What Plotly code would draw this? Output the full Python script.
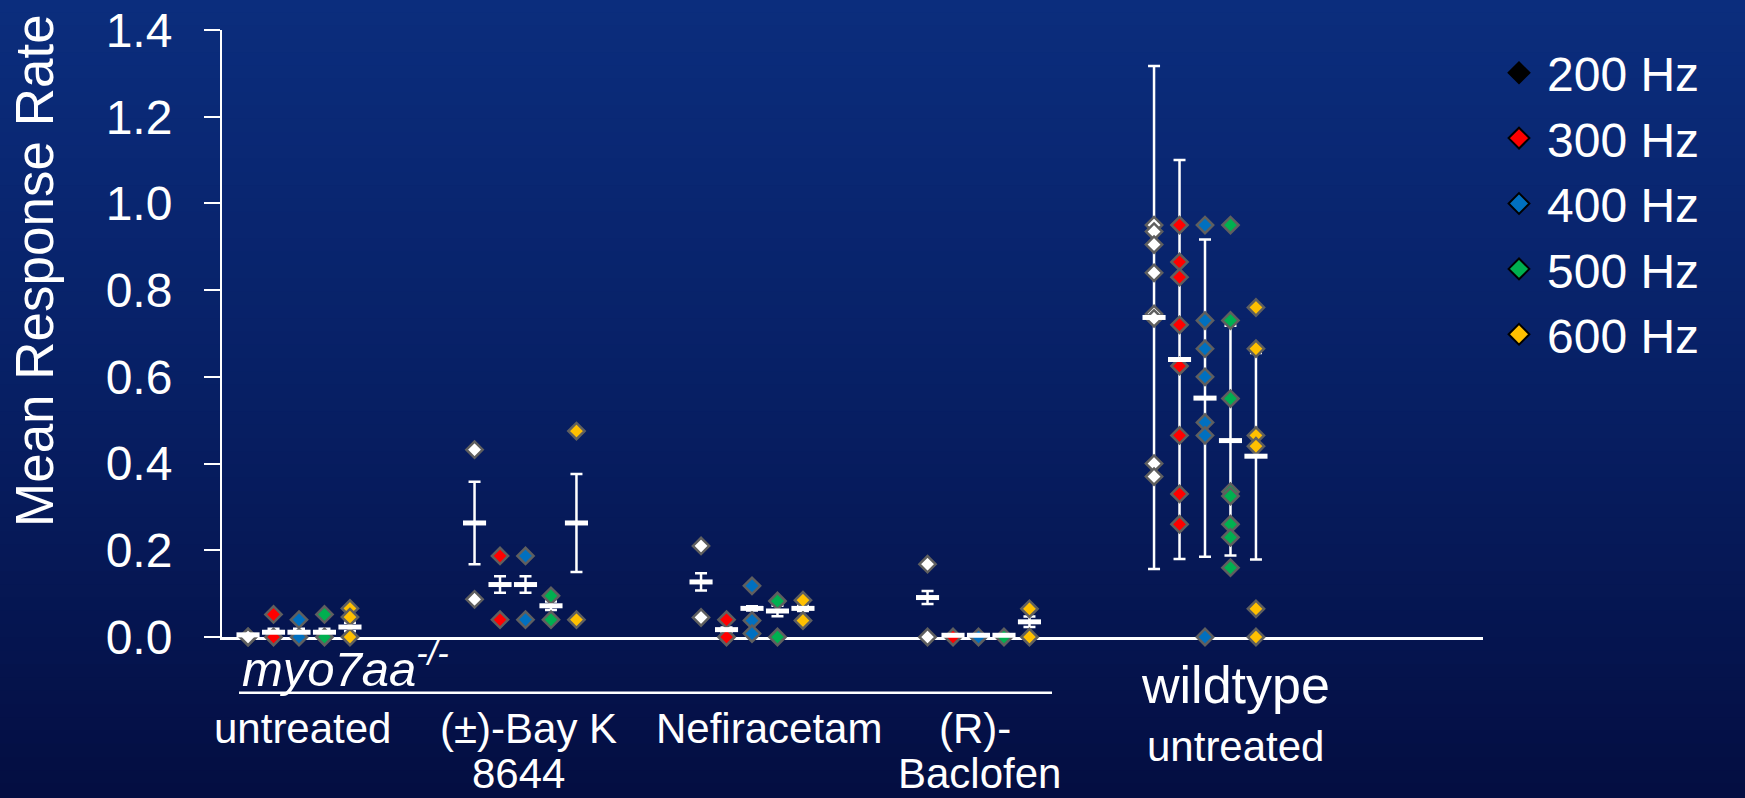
import plotly.graph_objects as go

# ---------------- data ----------------
groups = ["untreated", "(±)-Bay K 8644", "Nefiracetam", "(R)-Baclofen", "wildtype untreated"]
freqs = ["200 Hz", "300 Hz", "400 Hz", "500 Hz", "600 Hz"]

# individual fish values (visible points), per group
points_200 = [[0.0, 0.0], [0.432, 0.087], [0.210, 0.045], [0.168, 0.0],
              [0.95, 0.935, 0.905, 0.84, 0.745, 0.735, 0.40, 0.37]]
points_300 = [[0.052, 0.0], [0.187, 0.040], [0.040, 0.0], [0.0],
              [0.95, 0.865, 0.83, 0.72, 0.625, 0.465, 0.33, 0.26]]
points_400 = [[0.040, 0.0], [0.187, 0.040], [0.118, 0.038, 0.008], [0.0],
              [0.95, 0.73, 0.665, 0.60, 0.495, 0.465, 0.0]]
points_500 = [[0.052, 0.0], [0.095, 0.040], [0.083, 0.0], [0.0],
              [0.95, 0.73, 0.55, 0.335, 0.325, 0.26, 0.23, 0.16]]
points_600 = [[0.066, 0.046, 0.0], [0.475, 0.040], [0.085, 0.038], [0.065, 0.0],
              [0.76, 0.665, 0.465, 0.44, 0.065, 0.0]]

# group means and error bar half-lengths
mean_200 = [0.005, 0.263, 0.127, 0.091, 0.737]
err_200 = [0.0, 0.095, 0.020, 0.015, 0.58]
mean_300 = [0.011, 0.121, 0.017, 0.004, 0.64]
err_300 = [0.008, 0.019, 0.005, 0.0, 0.46]
mean_400 = [0.011, 0.121, 0.066, 0.004, 0.551]
err_400 = [0.008, 0.019, 0.005, 0.0, 0.366]
mean_500 = [0.011, 0.072, 0.060, 0.004, 0.453]
err_500 = [0.008, 0.010, 0.012, 0.0, 0.265]
mean_600 = [0.023, 0.263, 0.066, 0.035, 0.417]
err_600 = [0.010, 0.113, 0.006, 0.012, 0.238]

y_ticks = [0.0, 0.2, 0.4, 0.6, 0.8, 1.0, 1.2, 1.4]

# category label text, line by line
label_line1 = ["untreated", "(±)-Bay K", "Nefiracetam", "(R)-"]
label_line2 = ["", "8644", "", "Baclofen"]
wt_line1, wt_line2 = "wildtype", "untreated"

# ---------------- style ----------------
FONT = "Arial, Liberation Sans, sans-serif"
fill_colors = ["#FFFFFF", "#FF0000", "#0070C0", "#00B050", "#FFC000"]
legend_colors = ["#000000", "#FF0000", "#0070C0", "#00B050", "#FFC000"]
points_all = [points_200, points_300, points_400, points_500, points_600]
means_all = [mean_200, mean_300, mean_400, mean_500, mean_600]
errs_all = [err_200, err_300, err_400, err_500, err_600]
group_pos = list(range(len(groups)))
step = 0.1125

W, H = 1745, 798
ML, MR, MT, MB = 222, 262, 30, 161
PW, PH = W - ML - MR, H - MT - MB


def px_x(px):
    return (px - ML) / PW


def px_y(py):
    return (H - MB - py) / PH


fig = go.Figure()

# error bars (below the diamonds)
for fi, f in enumerate(freqs):
    off = (fi - 2) * step
    fig.add_trace(go.Scatter(
        x=[g + off for g in group_pos], y=means_all[fi], mode="markers",
        marker=dict(size=1, color="rgba(0,0,0,0)"),
        error_y=dict(type="data", array=errs_all[fi], color="white", thickness=2.5, width=6),
        showlegend=False, hoverinfo="skip", cliponaxis=False))

# individual points
for fi, f in enumerate(freqs):
    off = (fi - 2) * step
    xs, ys = [], []
    for g, pts in zip(group_pos, points_all[fi]):
        for v in pts:
            xs.append(g + off)
            ys.append(v)
    fig.add_trace(go.Scatter(
        x=xs, y=ys, mode="markers", name=f, showlegend=False, cliponaxis=False,
        marker=dict(symbol="diamond", size=12.5, color=fill_colors[fi],
                    line=dict(color="#5f5f5f", width=2.5))))

# mean bars
for fi, f in enumerate(freqs):
    off = (fi - 2) * step
    fig.add_trace(go.Scatter(
        x=[g + off for g in group_pos], y=means_all[fi], mode="markers",
        showlegend=False, cliponaxis=False,
        marker=dict(symbol="line-ew", size=16.5, color="white",
                    line=dict(color="white", width=5))))

# legend entries
for fi, f in enumerate(freqs):
    fig.add_trace(go.Scatter(
        x=[None], y=[None], mode="markers", name=f,
        marker=dict(symbol="diamond", size=16, color=legend_colors[fi],
                    line=dict(color="black", width=2))))

# background gradient
top_c = (11, 45, 125)
mid_c = (7, 31, 100)
bot_c = (4, 14, 66)
N = 60
shapes = []
for i in range(N):
    t = i / (N - 1)
    if t < 0.5:
        u = t / 0.5
        c = [round(top_c[k] + (mid_c[k] - top_c[k]) * u) for k in range(3)]
    else:
        u = (t - 0.5) / 0.5
        c = [round(mid_c[k] + (bot_c[k] - mid_c[k]) * u) for k in range(3)]
    y0 = i * H / N - 1
    y1 = (i + 1) * H / N + 1
    shapes.append(dict(type="rect", xref="paper", yref="paper", layer="below",
                       x0=px_x(-2), x1=px_x(W + 2), y0=px_y(y1), y1=px_y(y0),
                       fillcolor=f"rgb({c[0]},{c[1]},{c[2]})", line=dict(width=0)))

# underline for myo7aa group
shapes.append(dict(type="line", xref="paper", yref="paper",
                   x0=px_x(239), x1=px_x(1052), y0=px_y(692.7), y1=px_y(692.7),
                   line=dict(color="white", width=2.5)))

annotations = []
# y axis title
annotations.append(dict(text="Mean Response Rate", textangle=-90, xref="paper", yref="paper",
                        x=px_x(34), y=px_y(271), xanchor="center", yanchor="middle",
                        showarrow=False, font=dict(family=FONT, size=53, color="white")))
# genotype label
annotations.append(dict(text="<i>myo7aa<sup>-/-</sup></i>", xref="paper", yref="paper",
                        x=px_x(240), y=px_y(697.5), xanchor="left", yanchor="bottom",
                        showarrow=False, font=dict(family=FONT, size=49, color="white")))
# treatment labels
shift1 = [3, 3, 17, -4]
shift2 = [0, -7, 0, 1]
for g in range(len(label_line1)):
    annotations.append(dict(text=label_line1[g], xref="x", yref="paper", x=group_pos[g],
                            xshift=shift1[g], y=px_y(703), xanchor="center", yanchor="top",
                            showarrow=False, font=dict(family=FONT, size=42, color="white")))
    if label_line2[g]:
        annotations.append(dict(text=label_line2[g], xref="x", yref="paper", x=group_pos[g],
                                xshift=shift2[g], y=px_y(797.5), xanchor="center",
                                yanchor="bottom", borderpad=0, showarrow=False,
                                font=dict(family=FONT, size=42, color="white")))
annotations.append(dict(text=wt_line1, xref="x", yref="paper", x=group_pos[4], xshift=30,
                        y=px_y(716), xanchor="center", yanchor="bottom", showarrow=False,
                        font=dict(family=FONT, size=52, color="white")))
annotations.append(dict(text=wt_line2, xref="x", yref="paper", x=group_pos[4], xshift=30,
                        y=px_y(721), xanchor="center", yanchor="top", showarrow=False,
                        font=dict(family=FONT, size=42, color="white")))

fig.update_layout(
    width=W, height=H,
    margin=dict(l=ML, r=MR, t=MT, b=MB, pad=0, autoexpand=False),
    paper_bgcolor="rgb(9,36,110)", plot_bgcolor="rgba(0,0,0,0)",
    shapes=shapes, annotations=annotations,
    showlegend=True,
    legend=dict(x=px_x(1491), y=px_y(35), xanchor="left", yanchor="top",
                bgcolor="rgba(0,0,0,0)", font=dict(family=FONT, size=48, color="white"),
                traceorder="normal", itemwidth=46),
    xaxis=dict(range=[(ML - 299) / 226.5, (ML + PW - 299) / 226.5], showgrid=False, zeroline=False,
               showline=True, linecolor="white", linewidth=2.5, showticklabels=False, ticks="",
               layer="below traces", fixedrange=True, automargin=False),
    yaxis=dict(range=[0, 1.4], tickvals=y_ticks, ticktext=[f"{v:.1f}" for v in y_ticks],
               showgrid=False, zeroline=False, showline=True, linecolor="white", linewidth=2,
               ticks="outside", ticklen=16, tickwidth=2, tickcolor="white",
               tickfont=dict(family=FONT, size=48, color="white"), ticklabelstandoff=22,
               layer="below traces", fixedrange=True, automargin=False),
)

fig.write_html("out.html")
